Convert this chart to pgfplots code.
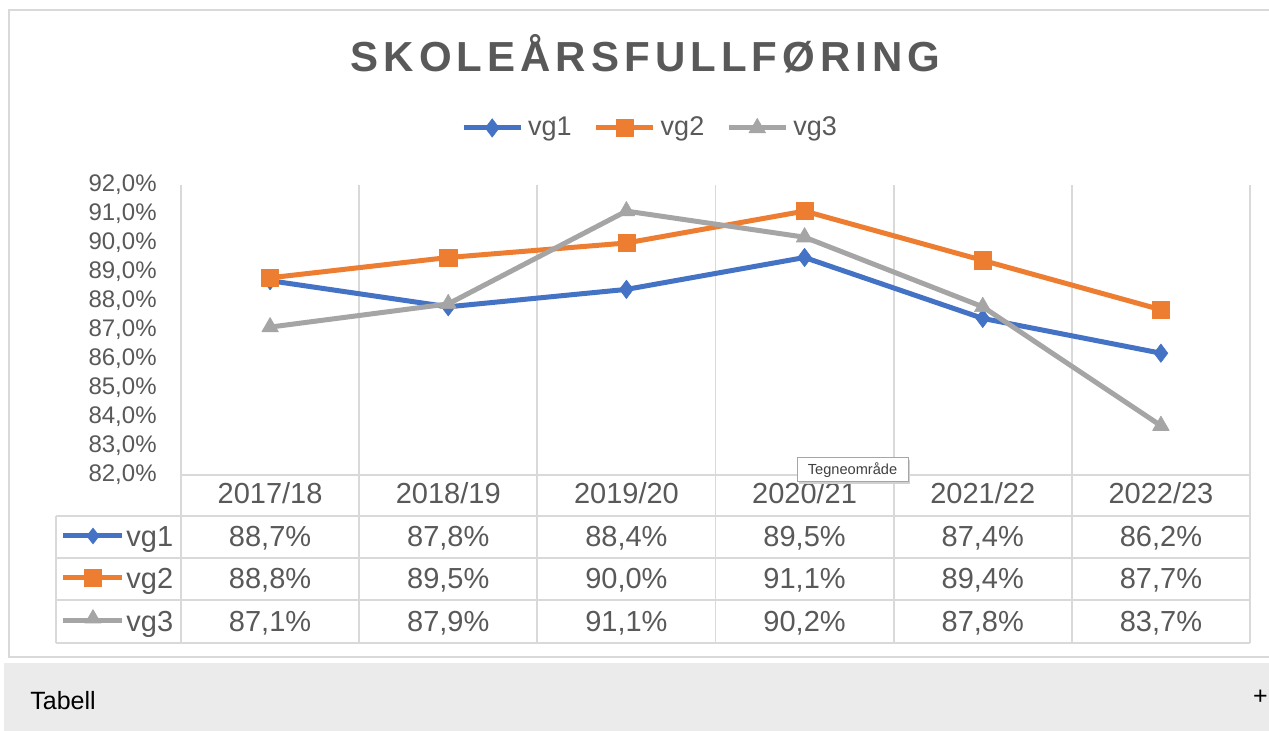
\documentclass[border=0pt]{standalone}
\usepackage{fontspec}
\setmainfont{Liberation Sans}
\newfontfamily\titlefont[LetterSpace=12]{Liberation Sans}
\usepackage{pgfplots}
\usepackage{pgfplotstable}
\pgfplotsset{compat=1.18}
\usetikzlibrary{shapes.geometric}
\definecolor{txt}{HTML}{595959}
\definecolor{gridc}{HTML}{D9D9D9}
\definecolor{cA}{HTML}{4472C4}
\definecolor{cB}{HTML}{ED7D31}
\definecolor{cC}{HTML}{A5A5A5}
\definecolor{band}{HTML}{EBEBEB}
\pgfkeys{/pgf/number format/assume math mode=true}

\pgfplotstableread{
x year vgA vgB vgC
0 2017/18 88.7 88.8 87.1
1 2018/19 87.8 89.5 87.9
2 2019/20 88.4 90.0 91.1
3 2020/21 89.5 91.1 90.2
4 2021/22 87.4 89.4 87.8
5 2022/23 86.2 87.7 83.7
}\datatable

\newcommand\tabfont{\fontsize{14.5}{17}\selectfont}
\newcommand\pct[1]{\pgfmathprintnumber[fixed,fixed zerofill,precision=1,use comma,assume math mode=true]{#1}\%}

\begin{document}
\begin{tikzpicture}
\useasboundingbox (0,0) rectangle (634.5pt,-365.5pt);
\begin{scope}[x=0.5pt,y=-0.5pt]
\fill[white] (0,0) rectangle (1269,731);
\draw[gridc, line width=0.9pt] (9,10) rectangle (1300,657);
\fill[band] (4,663) rectangle (1300,740);
\node[anchor=base west, font=\fontsize{12.5}{15}\selectfont, text=black, inner sep=0pt] at (30,709) {Tabell};
\node[font=\fontsize{12.5}{15}\selectfont, text=black, inner sep=0pt] at (1260.5,697) {+};
% title
\node[anchor=base, font=\titlefont\bfseries\fontsize{21}{25}\selectfont, text=txt, inner sep=0pt] at (645.5,72) {SKOLEÅRSFULLFØRING};
% table grid
\begin{scope}[gridc, line width=0.9pt]
\draw (181,475) -- (1250,475);
\foreach \yy in {516,558,600,643} \draw (56,\yy) -- (1250,\yy);
\draw (56,516) -- (56,643);
\foreach \k in {0,...,6} \draw ({181+\k*178.1667},475) -- ({181+\k*178.1667},643);
\end{scope}
% table legend keys
\draw[cA, line width=2.5pt] (63,536) -- (122,536);
\node[diamond, fill=cA, inner sep=0pt, minimum width=6.8pt, minimum height=8.6pt] at (93,536) {};
\node[anchor=base west, font=\tabfont, text=txt, inner sep=0pt] at (126,546.4) {vg1};
\draw[cB, line width=2.5pt] (63,578) -- (122,578);
\node[rectangle, fill=cB, inner sep=0pt, minimum size=9pt] at (93,578) {};
\node[anchor=base west, font=\tabfont, text=txt, inner sep=0pt] at (126,588.4) {vg2};
\draw[cC, line width=2.5pt] (63,621) -- (122,621);
\node[regular polygon, regular polygon sides=3, fill=cC, inner sep=0pt, minimum size=9.6pt] at (93,618.5) {};
\node[anchor=base west, font=\tabfont, text=txt, inner sep=0pt] at (126,631.4) {vg3};
% table values
\foreach \i in {0,...,5}{
  \pgfmathsetmacro\cx{181+(\i+0.5)*178.1667}
  \pgfplotstablegetelem{\i}{year}\of\datatable
  \node[anchor=base, font=\tabfont, text=txt, inner sep=0pt] at (\cx,503.4) {\pgfplotsretval};
  \pgfplotstablegetelem{\i}{vgA}\of\datatable
  \node[anchor=base, font=\tabfont, text=txt, inner sep=0pt] at (\cx,546.4) {\pct{\pgfplotsretval}};
  \pgfplotstablegetelem{\i}{vgB}\of\datatable
  \node[anchor=base, font=\tabfont, text=txt, inner sep=0pt] at (\cx,588.4) {\pct{\pgfplotsretval}};
  \pgfplotstablegetelem{\i}{vgC}\of\datatable
  \node[anchor=base, font=\tabfont, text=txt, inner sep=0pt] at (\cx,631.4) {\pct{\pgfplotsretval}};
}
\end{scope}

\begin{axis}[
  at={(90.5pt,-237.5pt)}, anchor=south west,
  scale only axis, width=534.5pt, height=145pt,
  xmin=-0.5, xmax=5.5, ymin=82, ymax=92,
  xtick={-0.5,0.5,...,5.5},
  xticklabel style={opacity=0, text opacity=0},
  xmajorgrids, major grid style={draw=gridc, line width=0.9pt},
  ytick={82,83,...,92},
  yticklabel={\pgfmathprintnumber[fixed,fixed zerofill,precision=1,use comma]{\tick}\%},
  yticklabel style={font=\fontsize{12}{14}\selectfont, text=txt, anchor=east, inner sep=0pt, xshift=-12pt},
  /pgf/number format/assume math mode=true,
  axis line style={draw=none}, major tick style={draw=none},
  legend columns=3,
  legend style={at={(0.4378,1.1966)}, anchor=center, draw=none, fill=none,
    font=\fontsize{13.5}{16}\selectfont, text=txt, nodes={inner sep=0pt},
    /tikz/every odd column/.append style={column sep=2.5pt},
    /tikz/every even column/.append style={column sep=11pt}},
  legend image code/.code={\draw[#1,mark repeat=2,mark phase=2] plot coordinates {(0pt,0pt) (14.25pt,0pt) (28.5pt,0pt)};},
  every axis plot/.append style={line width=2.5pt, line join=round},
]
\addplot[cA, mark=diamond*, mark size=4.6pt, mark options={solid,line width=0.3pt}] table[x=x,y=vgA] {\datatable};
\addplot[cB, mark=square*, mark size=4.3pt, mark options={solid,line width=0.3pt}] table[x=x,y=vgB] {\datatable};
\addplot[cC, mark=triangle*, mark size=4.8pt, mark options={solid,line width=0.3pt}] table[x=x,y=vgC] {\datatable};
\legend{vg1,vg2,vg3}
\end{axis}

\begin{scope}[x=0.5pt,y=-0.5pt]
\fill[black!18] (799,460) rectangle (910,484);
\draw[fill=white, draw=black!35, line width=0.5pt] (797,458) rectangle (908,482);
\node[font=\fontsize{7.3}{9}\selectfont, text=black!75, inner sep=0pt] at (852.5,470) {Tegneområde};
\end{scope}
\end{tikzpicture}
\end{document}
